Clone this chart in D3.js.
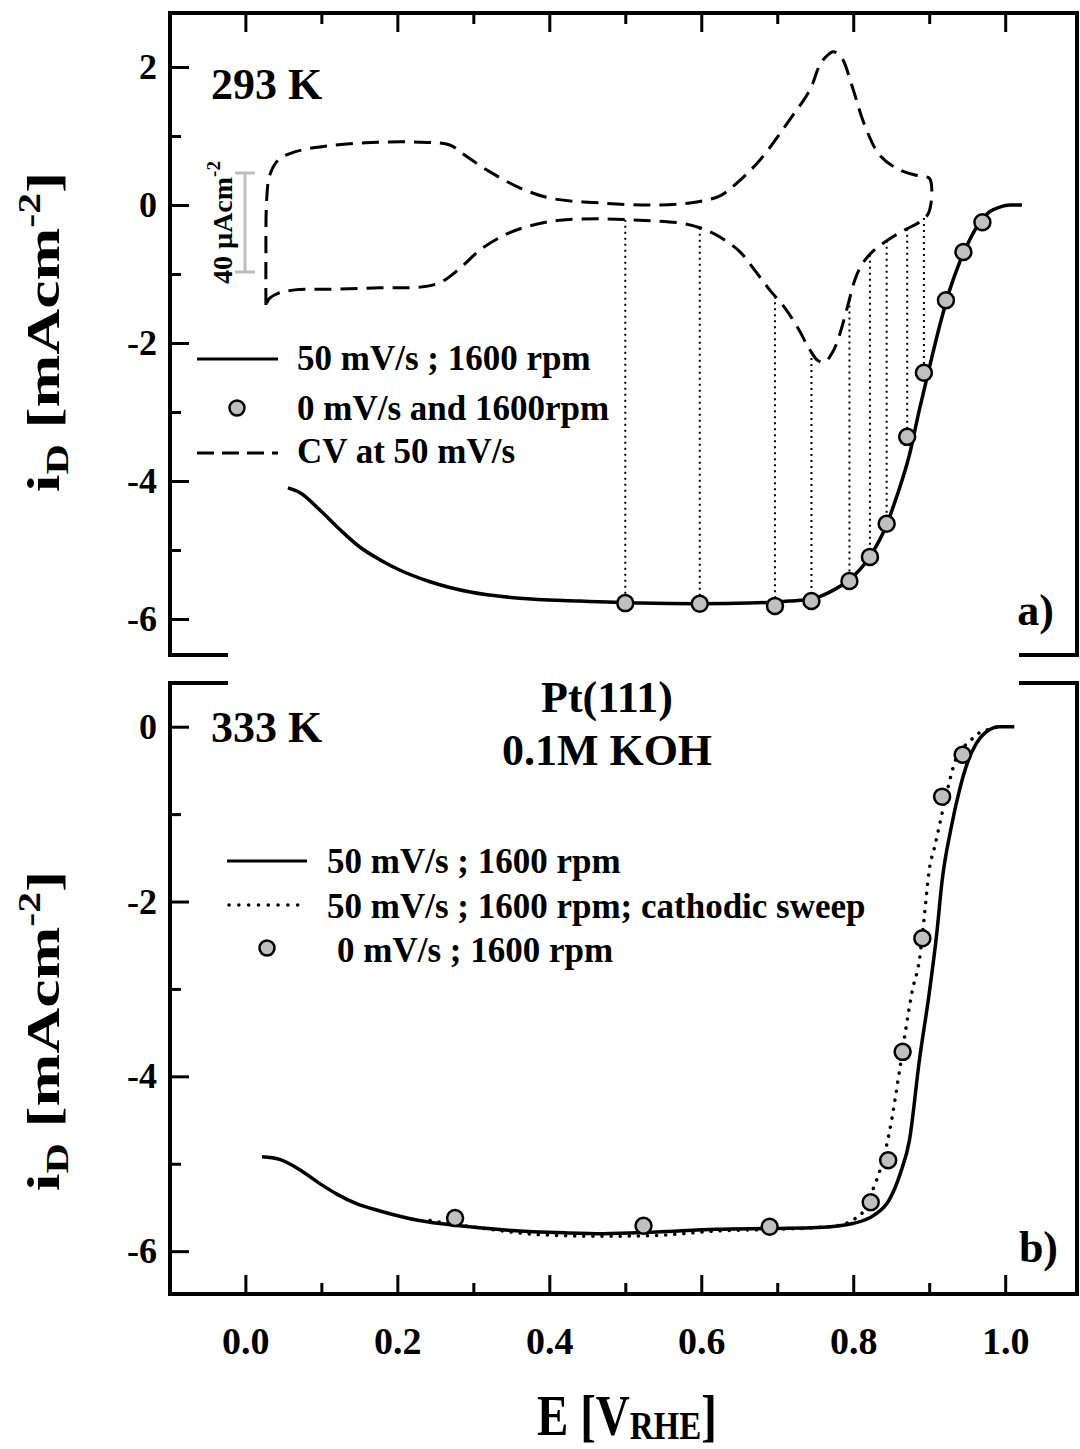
<!DOCTYPE html>
<html><head><meta charset="utf-8">
<script src="https://cdn.jsdelivr.net/npm/d3@7"></script>
<style>
body{margin:0;background:#fff}
text{font-family:"Liberation Serif","Times New Roman",serif;font-weight:bold;fill:#000}
</style></head>
<body><svg id="c" width="1080" height="1449"></svg>
<script>
// ---------- data ----------
const xMajorTicks = [0, 0.2, 0.4, 0.6, 0.8, 1.0];
const xMinorTicks = [0.1, 0.3, 0.5, 0.7, 0.9];
const yMajorTicksA = [-6, -4, -2, 0, 2];
const yMinorTicksA = [-5, -3, -1, 1];
const yMajorTicksB = [-6, -4, -2, 0];
const yMinorTicksB = [-5, -3, -1];

// panel a: 293 K, ORR polarization curve (50 mV/s, 1600 rpm)
const lsvA_E = [0.056,0.072,0.098,0.125,0.151,0.177,0.203,0.243,0.296,0.361,0.440,0.519,0.598,0.664,0.716,0.745,0.769,0.795,0.819,0.841,0.858,0.874,0.887,0.901,0.914,0.927,0.940,0.953,0.966,0.979,0.993,1.006,1.022];
const lsvA_I = [-4.10,-4.17,-4.42,-4.71,-4.96,-5.14,-5.29,-5.46,-5.61,-5.70,-5.74,-5.77,-5.78,-5.77,-5.74,-5.71,-5.61,-5.43,-5.14,-4.71,-4.20,-3.62,-2.97,-2.32,-1.74,-1.23,-0.83,-0.51,-0.26,-0.10,-0.03,0.0,0.0];
// panel a: steady-state points (0 mV/s, 1600 rpm)
const ssA_E = [0.500,0.598,0.697,0.745,0.795,0.822,0.844,0.871,0.893,0.922,0.945,0.970];
const ssA_I = [-5.77,-5.78,-5.81,-5.74,-5.45,-5.10,-4.62,-3.36,-2.43,-1.38,-0.68,-0.25];
// panel a: CV at 50 mV/s (drawn on the same axes, own scale bar)
const cvUp_E = [0.027,0.027,0.028,0.032,0.043,0.065,0.111,0.177,0.230,0.269,0.289,0.322,0.361,0.401,0.466,0.532,0.585,0.624,0.644,0.677,0.716,0.743,0.756,0.766,0.774,0.785,0.798,0.815,0.835,0.861,0.887,0.900,0.903,0.902];
const cvUp_I = [-1.45,-0.80,0.07,0.43,0.65,0.77,0.86,0.91,0.91,0.87,0.72,0.48,0.25,0.10,0.03,0.0,0.03,0.13,0.29,0.65,1.23,1.67,2.03,2.17,2.22,2.13,1.74,1.16,0.72,0.51,0.42,0.39,0.29,0.0];
const cvDown_E = [0.902,0.898,0.887,0.868,0.845,0.825,0.811,0.802,0.793,0.782,0.773,0.762,0.753,0.743,0.727,0.710,0.690,0.670,0.651,0.624,0.598,0.571,0.519,0.466,0.414,0.375,0.342,0.309,0.283,0.257,0.230,0.177,0.111,0.065,0.043,0.032,0.027];
const cvDown_I = [0.0,-0.14,-0.25,-0.36,-0.51,-0.68,-0.87,-1.09,-1.45,-1.88,-2.13,-2.28,-2.25,-2.10,-1.78,-1.49,-1.23,-0.94,-0.68,-0.46,-0.33,-0.26,-0.22,-0.20,-0.22,-0.30,-0.43,-0.65,-0.91,-1.12,-1.19,-1.20,-1.22,-1.23,-1.28,-1.35,-1.45];

// panel b: 333 K
const lsvB_E = [0.022,0.045,0.070,0.095,0.121,0.147,0.177,0.229,0.282,0.346,0.420,0.471,0.541,0.619,0.698,0.753,0.801,0.827,0.847,0.862,0.874,0.887,0.900,0.910,0.917,0.929,0.940,0.950,0.962,0.975,0.992,1.012];
const lsvB_I = [-4.92,-4.95,-5.06,-5.21,-5.35,-5.46,-5.54,-5.65,-5.71,-5.76,-5.79,-5.80,-5.78,-5.75,-5.74,-5.73,-5.68,-5.59,-5.42,-5.11,-4.73,-3.82,-3.05,-2.36,-1.76,-1.15,-0.72,-0.42,-0.19,-0.06,0.0,0.0];
const cathB_E = [0.243,0.314,0.385,0.471,0.541,0.619,0.698,0.753,0.784,0.800,0.812,0.821,0.828,0.835,0.848,0.861,0.869,0.878,0.887,0.894,0.900,0.907,0.917,0.924,0.936,0.953,0.966,0.979,0.992];
const cathB_I = [-5.65,-5.74,-5.81,-5.83,-5.82,-5.77,-5.75,-5.73,-5.70,-5.64,-5.56,-5.39,-5.25,-5.08,-4.62,-3.93,-3.47,-3.01,-2.67,-2.13,-1.64,-1.38,-0.99,-0.72,-0.35,-0.17,-0.07,-0.03,0.0];
const ssB_E = [0.276,0.524,0.690,0.823,0.846,0.865,0.891,0.917,0.944];
const ssB_I = [-5.62,-5.71,-5.72,-5.44,-4.96,-3.72,-2.42,-0.80,-0.32];

// ---------- drawing ----------
const svg = d3.select("#c");
const FONT = '"Liberation Serif","Times New Roman",serif';
const x = d3.scaleLinear().domain([-0.0992, 1.0945]).range([170, 1077]);
const yA = d3.scaleLinear().domain([-6.522, 2.783]).range([655, 13]);
const yB = d3.scaleLinear().domain([-6.49, 0.50]).range([1294, 683]);
const zip = (a, b) => a.map((v, i) => [v, b[i]]);
const fmtY = d => (d < 0 ? "-" : "") + Math.abs(d);

function styleAxis(g, fs) {
  g.select(".domain").remove();
  g.selectAll(".tick line").attr("stroke", "#000").attr("stroke-width", 3);
  g.selectAll(".tick text").attr("font-family", FONT).attr("font-weight", "bold")
    .attr("font-size", fs).attr("fill", "#000");
}

// axes panel a
svg.append("g").attr("transform", "translate(0,13)")
  .call(d3.axisTop(x).tickValues(xMajorTicks).tickSize(-19).tickFormat("")).call(styleAxis, 0);
svg.append("g").attr("transform", "translate(0,13)")
  .call(d3.axisTop(x).tickValues(xMinorTicks).tickSize(-11).tickFormat("")).call(styleAxis, 0);
svg.append("g").attr("transform", "translate(170,0)")
  .call(d3.axisLeft(yA).tickValues(yMajorTicksA).tickSize(-19).tickPadding(13).tickFormat(fmtY)).call(styleAxis, 36);
svg.append("g").attr("transform", "translate(170,0)")
  .call(d3.axisLeft(yA).tickValues(yMinorTicksA).tickSize(-11).tickFormat("")).call(styleAxis, 0);

// axes panel b
svg.append("g").attr("transform", "translate(0,1294)")
  .call(d3.axisBottom(x).tickValues(xMajorTicks).tickSize(-19).tickPadding(33).tickFormat(d3.format(".1f"))).call(styleAxis, 38);
svg.append("g").attr("transform", "translate(0,1294)")
  .call(d3.axisBottom(x).tickValues(xMinorTicks).tickSize(-11).tickFormat("")).call(styleAxis, 0);
svg.append("g").attr("transform", "translate(170,0)")
  .call(d3.axisLeft(yB).tickValues(yMajorTicksB).tickSize(-19).tickPadding(13).tickFormat(fmtY)).call(styleAxis, 36);
svg.append("g").attr("transform", "translate(170,0)")
  .call(d3.axisLeft(yB).tickValues(yMinorTicksB).tickSize(-11).tickFormat("")).call(styleAxis, 0);

// frames (broken between panels)
const xl = x.range()[0], xr = x.range()[1];
svg.append("path").attr("fill", "none").attr("stroke", "#000").attr("stroke-width", 4)
  .attr("d", `M${xl + 58},${yA.range()[0]}H${xl}V${yA.range()[1]}H${xr}V${yA.range()[0]}H${xr - 58}`);
svg.append("path").attr("fill", "none").attr("stroke", "#000").attr("stroke-width", 4)
  .attr("d", `M${xl + 58},${yB.range()[1]}H${xl}V${yB.range()[0]}H${xr}V${yB.range()[1]}H${xr - 58}`);

// curve generators
const cvLine = d3.line().x(d => x(d[0])).y(d => yA(d[1])).curve(d3.curveCatmullRom.alpha(0.5));
const lineA = d3.line().x(d => x(d[0])).y(d => yA(d[1])).curve(d3.curveMonotoneX);
const lineB = d3.line().x(d => x(d[0])).y(d => yB(d[1])).curve(d3.curveMonotoneX);

const cvLoop = zip(cvUp_E, cvUp_I).concat(zip(cvDown_E, cvDown_I).slice(1));
svg.append("path").attr("d", cvLine(cvLoop)).attr("fill", "none").attr("stroke", "#000")
  .attr("stroke-width", 3).attr("stroke-dasharray", "17,9");

// dotted drop lines from cathodic CV branch to the steady-state points
const cvDownSorted = zip(cvDown_E, cvDown_I).sort((a, b) => a[0] - b[0]);
const cvAt = e => {
  for (let i = 1; i < cvDownSorted.length; i++) {
    const [e0, i0] = cvDownSorted[i - 1], [e1, i1] = cvDownSorted[i];
    if (e >= e0 && e <= e1) return i0 + (i1 - i0) * (e - e0) / (e1 - e0);
  }
  return 0;
};
svg.append("g").selectAll("line").data(zip(ssA_E, ssA_I).slice(0, 9)).join("line")
  .attr("x1", d => x(d[0])).attr("x2", d => x(d[0]))
  .attr("y1", d => yA(cvAt(d[0]))).attr("y2", d => yA(d[1]))
  .attr("stroke", "#000").attr("stroke-width", 2).attr("stroke-dasharray", "2,4");

svg.append("path").attr("d", lineA(zip(lsvA_E, lsvA_I))).attr("fill", "none")
  .attr("stroke", "#000").attr("stroke-width", 3.5);
svg.append("g").selectAll("circle").data(zip(ssA_E, ssA_I)).join("circle")
  .attr("cx", d => x(d[0])).attr("cy", d => yA(d[1])).attr("r", 8)
  .attr("fill", "#c0c0c0").attr("stroke", "#000").attr("stroke-width", 2.5);

// panel b curves
svg.append("path").attr("d", lineB(zip(cathB_E, cathB_I))).attr("fill", "none")
  .attr("stroke", "#000").attr("stroke-width", 3.5).attr("stroke-linecap", "round").attr("stroke-dasharray", "0.1,9");
svg.append("path").attr("d", lineB(zip(lsvB_E, lsvB_I))).attr("fill", "none")
  .attr("stroke", "#000").attr("stroke-width", 3.5);
svg.append("g").selectAll("circle").data(zip(ssB_E, ssB_I)).join("circle")
  .attr("cx", d => x(d[0])).attr("cy", d => yB(d[1])).attr("r", 8)
  .attr("fill", "#c0c0c0").attr("stroke", "#000").attr("stroke-width", 2.5);

// scale bar for CV
const sb = svg.append("g").attr("stroke", "#bdbdbd").attr("stroke-width", 3);
sb.append("line").attr("x1", 245).attr("x2", 245).attr("y1", 173).attr("y2", 272);
sb.append("line").attr("x1", 235).attr("x2", 255).attr("y1", 173).attr("y2", 173);
sb.append("line").attr("x1", 235).attr("x2", 255).attr("y1", 272).attr("y2", 272);
const sbt = svg.append("text").attr("transform", "translate(232,284) rotate(-90)").attr("font-size", 28);
sbt.append("tspan").text("40 µAcm");
sbt.append("tspan").attr("font-size", 19).attr("dy", -12).text("-2");

// annotations
const txt = (s, xx, yy, fs, anchor) => svg.append("text").attr("x", xx).attr("y", yy)
  .attr("font-size", fs).attr("text-anchor", anchor || "start").text(s);
txt("293 K", 211, 99, 44);
txt("333 K", 211, 742, 44);
txt("Pt(111)", 607, 712, 44, "middle");
txt("0.1M KOH", 607, 765, 44, "middle");
txt("a)", 1054, 625, 44, "end");
txt("b)", 1058, 1262, 44, "end");

// legend a
svg.append("line").attr("x1", 197).attr("x2", 278).attr("y1", 359).attr("y2", 359).attr("stroke", "#000").attr("stroke-width", 3);
txt("50 mV/s ; 1600 rpm", 297, 370, 35);
svg.append("circle").attr("cx", 237).attr("cy", 408).attr("r", 7.5).attr("fill", "#c0c0c0").attr("stroke", "#000").attr("stroke-width", 2.5);
txt("0 mV/s and 1600rpm", 297, 420, 35);
svg.append("line").attr("x1", 197).attr("x2", 278).attr("y1", 453).attr("y2", 453).attr("stroke", "#000").attr("stroke-width", 3).attr("stroke-dasharray", "17,8");
txt("CV at 50 mV/s", 297, 463, 35);

// legend b
svg.append("line").attr("x1", 227).attr("x2", 307).attr("y1", 861).attr("y2", 861).attr("stroke", "#000").attr("stroke-width", 3);
txt("50 mV/s ; 1600 rpm", 327, 873, 35);
svg.append("line").attr("x1", 229).attr("x2", 307).attr("y1", 905).attr("y2", 905).attr("stroke", "#000").attr("stroke-width", 3.5).attr("stroke-linecap", "round").attr("stroke-dasharray", "0.1,9.7");
txt("50 mV/s ; 1600 rpm; cathodic sweep", 327, 918, 35);
svg.append("circle").attr("cx", 267).attr("cy", 948).attr("r", 7.5).attr("fill", "#c0c0c0").attr("stroke", "#000").attr("stroke-width", 2.5);
txt("0 mV/s ; 1600 rpm", 337, 962, 35);

// axis titles (stretched along the page vertical as in the reference)
function yTitle(cx, cy) {
  const t = svg.append("text").attr("transform", `translate(${cx},${cy}) rotate(-90) scale(1.35,1)`)
    .attr("font-size", 47).attr("text-anchor", "middle");
  t.append("tspan").text("i");
  t.append("tspan").attr("font-size", 31).attr("dy", 9).text("D");
  t.append("tspan").attr("dy", -9).text(" [mAcm");
  t.append("tspan").attr("font-size", 31).attr("dy", -19).text("-2");
  t.append("tspan").attr("dy", 19).text("]");
}
yTitle(59, 332);
yTitle(59, 1031);
const xt = svg.append("text").attr("transform", "translate(627,1435) scale(1,1.22)")
  .attr("font-size", 47).attr("text-anchor", "middle");
xt.append("tspan").text("E [V");
xt.append("tspan").attr("font-size", 33).attr("dy", 3).text("RHE");
xt.append("tspan").attr("dy", -3).text("]");
</script>
</body></html>
